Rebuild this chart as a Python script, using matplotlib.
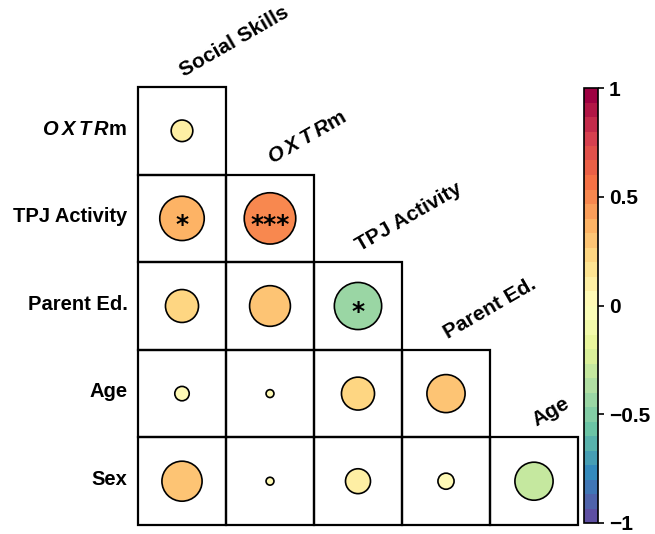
import numpy as np
import matplotlib
matplotlib.use("Agg")
import matplotlib.pyplot as plt
from matplotlib.patches import Circle, Rectangle
from matplotlib.colors import Normalize
from matplotlib.cm import ScalarMappable

plt.rcParams['font.family'] = ['Liberation Sans', 'DejaVu Sans']
plt.rcParams['font.weight'] = 'bold'
plt.rcParams['mathtext.fontset'] = 'custom'
plt.rcParams['mathtext.bfit'] = 'Liberation Sans:bold:italic'
plt.rcParams['mathtext.bf'] = 'Liberation Sans:bold'
plt.rcParams['mathtext.rm'] = 'Liberation Sans:bold'

# variables along the columns and rows of the lower triangle
col_labels = ["Social Skills", r"$\mathbfit{O\,X\,T\,R}$m", "TPJ Activity", "Parent Ed.", "Age"]
row_labels = [r"$\mathbfit{O\,X\,T\,R}$m", "TPJ Activity", "Parent Ed.", "Age", "Sex"]

# correlations, one list per row (row i has i+1 entries)
r_oxtr = [0.09]
r_tpj = [0.38, 0.51]
r_parent = [0.21, 0.32, -0.43]
r_age = [0.04, 0.012, 0.21, 0.28]
r_sex = [0.31, 0.012, 0.12, 0.05, -0.28]
corr_rows = [r_oxtr, r_tpj, r_parent, r_age, r_sex]

# significance marks
sig_rows = [[""], ["*", "***"], ["", "", "*"], ["", "", "", ""], ["", "", "", "", ""]]

cmap = plt.get_cmap("Spectral_r", 30)
norm = Normalize(-1, 1)

fig = plt.figure(figsize=(6.55, 5.34), dpi=100)
ax = fig.add_axes([138 / 655, 9 / 534, 440 / 655, 438 / 534])
ax.set_xlim(0, 5)
ax.set_ylim(5, 0)
ax.axis("off")

for i, vals in enumerate(corr_rows):
    for j, r in enumerate(vals):
        ax.add_patch(Rectangle((j, i), 1, 1, fill=False, ec="black", lw=1.6, clip_on=False))
        rad = 0.41 * np.sqrt(abs(r))
        ax.add_patch(Circle((j + 0.5, i + 0.5), rad, fc=cmap(norm(r)), ec="black", lw=1.2))
        if sig_rows[i][j]:
            ax.text(j + 0.5, i + 0.57, sig_rows[i][j], ha="center", va="center",
                    fontsize=18, fontweight="bold", family="DejaVu Sans")

for i, lab in enumerate(row_labels):
    ax.text(-0.12, i + 0.48, lab, ha="right", va="center", fontsize=14.5, fontweight="bold")

for j, lab in enumerate(col_labels):
    ax.text(j + 0.55, j - 0.08, lab, ha="left", va="bottom", rotation=30,
            rotation_mode="anchor", fontsize=15, fontweight="bold")

cax = fig.add_axes([584 / 655, 11 / 534, 14 / 655, 435 / 534])
cb = fig.colorbar(ScalarMappable(norm=norm, cmap=cmap), cax=cax, ticks=[-1, -0.5, 0, 0.5, 1])
cb.ax.set_yticklabels(["\u22121", "\u22120.5", "0", "0.5", "1"])
cb.ax.tick_params(length=4, width=1.2, labelsize=15, pad=4)
for t in cb.ax.get_yticklabels():
    t.set_fontweight("bold")
cb.outline.set_linewidth(1.2)

fig.savefig("out.png", dpi=100)
